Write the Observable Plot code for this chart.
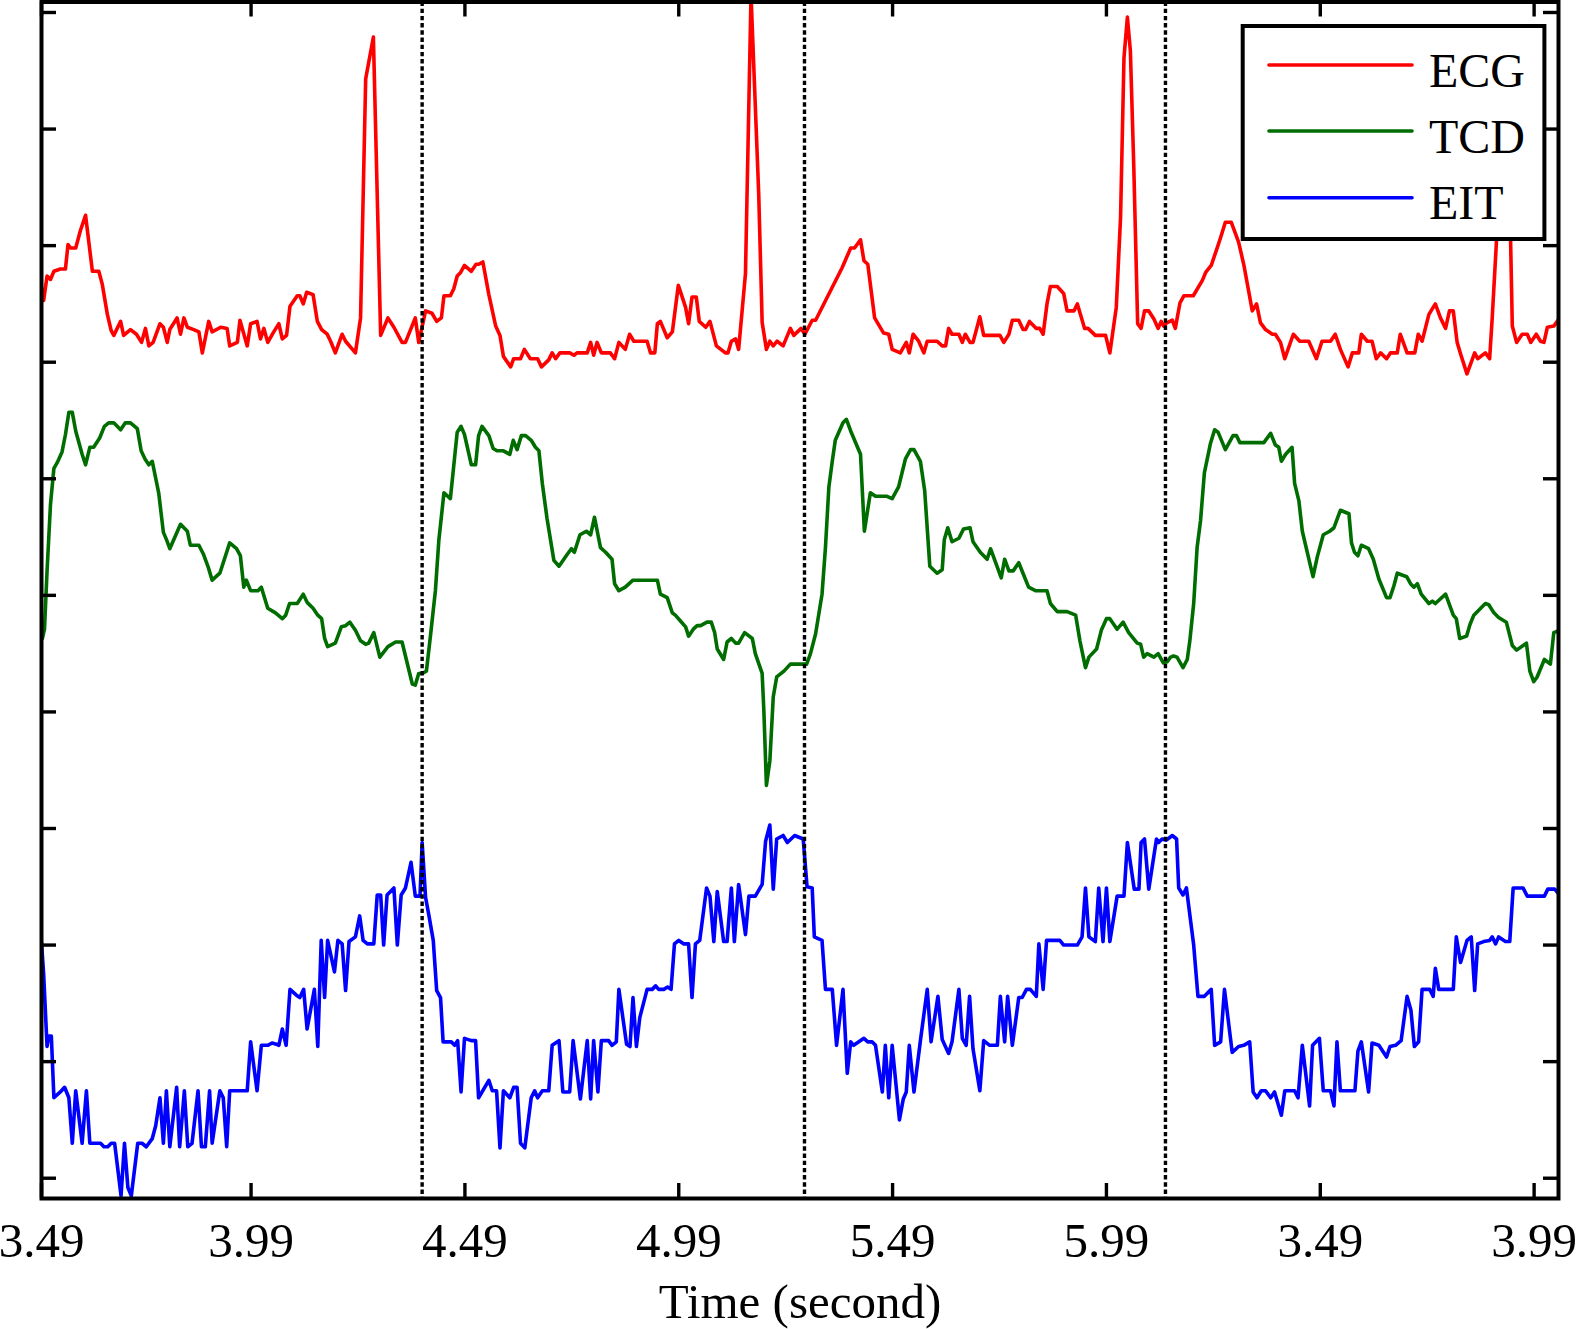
<!DOCTYPE html>
<html><head><meta charset="utf-8">
<script src="https://cdn.jsdelivr.net/npm/d3@7"></script>
<script src="https://cdn.jsdelivr.net/npm/@observablehq/plot@0.6"></script>
<style>
html,body{margin:0;padding:0;background:#fff;}
#chart{position:relative;width:1577px;height:1329px;}
</style></head><body><div id="chart"></div>
<script>
// ---------- data ----------
const seriesNames = ["ECG", "TCD", "EIT"];
const seriesColors = ["#ff0000", "#006d00", "#0000ff"];
const xTicks = [3.50, 3.99, 4.49, 4.99, 5.49, 5.99, 6.49, 6.99];
const xTickLabels = ["3.49", "3.99", "4.49", "4.99", "5.49", "5.99", "3.49", "3.99"];
const yTicks = [0, 1, 2, 3, 4, 5, 6, 7, 8, 9, 10];
const xLabel = "Time (second)";
const markerTimes = [4.390, 5.284, 6.128];
const xDomain = [3.50, 7.047];
const yDomain = [-0.174, 10.09];

const ecgTime = [
3.502,3.505,3.513,3.521,3.529,3.544,3.556,3.562,3.568,3.580,3.591,3.603,3.619,3.634,3.642,3.654,3.663,3.669,3.685,3.692,3.708,3.722,3.734,3.743,3.751,3.761,3.777,3.785,3.794,3.800,3.817,3.825,3.833,3.841,3.856,3.868,3.876,3.891,3.899,3.919,3.934,3.940,3.958,3.964,3.981,3.989,4.004,4.012,4.020,4.029,4.043,4.055,4.063,4.073,4.081,4.098,4.104,4.112,4.120,4.135,4.145,4.155,4.168,4.176,4.187,4.203,4.211,4.234,4.246,4.258,4.276,4.293,4.310,4.324,4.343,4.351,4.374,4.382,4.398,
4.413,4.424,4.435,4.441,4.456,4.464,4.472,4.480,4.489,4.505,4.516,4.522,4.532,4.546,4.562,4.572,4.580,4.597,4.604,4.620,4.629,4.643,4.660,4.669,4.686,4.694,4.702,4.712,4.735,4.745,4.752,4.776,4.784,4.791,4.799,4.809,4.830,4.840,4.850,4.865,4.875,4.885,4.916,4.924,4.934,4.940,4.947,4.963,4.975,4.989,4.998,5.006,5.013,5.021,5.031,5.038,5.053,5.063,5.078,5.099,5.105,5.113,5.123,5.130,5.146,5.159,5.177,5.185,5.195,5.203,5.211,5.220,5.234,5.251,5.259,5.276,5.285,
5.302,5.310,5.372,5.392,5.401,5.415,5.423,5.432,5.448,5.469,5.481,5.489,5.508,5.522,5.529,5.538,5.551,5.563,5.571,5.594,5.606,5.614,5.621,5.629,5.645,5.653,5.660,5.671,5.678,5.694,5.703,5.741,5.750,5.762,5.770,5.785,5.795,5.801,5.810,5.826,5.834,5.842,5.851,5.859,5.875,5.890,5.898,5.914,5.922,5.939,5.947,5.964,5.988,5.998,6.013,6.023,6.031,6.039,6.046,6.054,6.063,6.071,6.079,6.089,6.101,6.111,6.118,6.124,6.132,6.144,
6.151,6.162,6.171,6.193,6.214,6.222,6.235,6.247,6.257,6.268,6.282,6.299,6.311,6.331,6.341,6.350,6.362,6.378,6.385,6.397,6.407,6.427,6.442,6.463,6.481,6.494,6.514,6.525,6.537,6.555,6.565,6.580,6.586,6.600,6.611,6.621,6.631,6.645,6.654,6.670,6.677,6.693,6.711,6.719,6.728,6.744,6.759,6.771,6.783,6.792,6.801,6.810,6.819,6.833,6.851,6.858,6.876,6.886,6.892,6.902,6.918,6.935,6.939,6.949,6.962,6.974,6.982,6.995,7.005,7.013,7.021,7.036,7.050];
const ecgValue = [
7.63,7.53,7.74,7.71,7.78,7.80,7.80,8.01,7.98,7.98,8.13,8.26,7.78,7.78,7.67,7.41,7.27,7.23,7.35,7.23,7.28,7.24,7.17,7.29,7.14,7.17,7.33,7.30,7.17,7.28,7.38,7.24,7.38,7.30,7.28,7.26,7.08,7.35,7.26,7.30,7.29,7.14,7.17,7.36,7.14,7.33,7.35,7.20,7.29,7.17,7.26,7.33,7.20,7.23,7.48,7.57,7.57,7.50,7.60,7.58,7.35,7.28,7.24,7.18,7.08,7.24,7.18,7.08,7.38,9.43,9.79,7.23,7.38,7.30,7.17,7.17,7.38,7.17,7.44,
7.42,7.35,7.38,7.57,7.57,7.63,7.74,7.77,7.83,7.78,7.84,7.84,7.86,7.58,7.31,7.23,7.05,6.96,7.03,7.03,7.11,7.03,7.03,6.96,7.02,7.08,7.03,7.08,7.08,7.06,7.08,7.08,7.17,7.06,7.17,7.08,7.08,7.03,7.17,7.11,7.24,7.18,7.18,7.08,7.08,7.33,7.35,7.21,7.26,7.66,7.56,7.47,7.33,7.56,7.56,7.35,7.30,7.35,7.14,7.08,7.08,7.18,7.20,7.11,7.76,10.15,8.44,7.34,7.11,7.18,7.14,7.18,7.14,7.29,7.23,7.29,7.24,
7.36,7.36,7.81,7.98,7.98,8.05,7.87,7.84,7.38,7.25,7.24,7.11,7.08,7.17,7.08,7.24,7.18,7.08,7.18,7.18,7.14,7.14,7.29,7.24,7.24,7.17,7.24,7.17,7.17,7.39,7.23,7.23,7.17,7.24,7.36,7.36,7.28,7.28,7.35,7.29,7.29,7.24,7.50,7.65,7.65,7.59,7.44,7.44,7.50,7.29,7.29,7.23,7.23,7.08,7.47,8.24,9.61,9.96,9.67,8.67,7.33,7.29,7.44,7.44,7.37,7.29,7.35,7.31,7.34,7.36,
7.29,7.51,7.57,7.57,7.70,7.77,7.83,7.96,8.07,8.20,8.20,8.03,7.84,7.44,7.50,7.34,7.28,7.24,7.24,7.17,7.03,7.24,7.18,7.18,7.03,7.18,7.18,7.24,7.11,6.96,7.08,7.08,7.24,7.18,7.18,7.03,7.08,7.03,7.08,7.08,7.24,7.08,7.08,7.24,7.18,7.41,7.50,7.38,7.29,7.44,7.44,7.17,7.06,6.90,7.08,7.03,7.08,7.03,7.38,8.04,9.50,8.04,7.31,7.17,7.24,7.24,7.17,7.24,7.18,7.17,7.30,7.31,7.38];

const tcdTime = [
3.502,3.507,3.513,3.521,3.529,3.537,3.548,3.556,3.564,3.572,3.580,3.595,3.603,3.613,3.622,3.636,3.647,3.657,3.669,3.685,3.696,3.708,3.724,3.733,3.742,3.751,3.759,3.774,3.785,3.792,3.800,3.825,3.841,3.848,3.868,3.879,3.890,3.899,3.917,3.940,3.956,3.965,3.973,3.979,3.989,4.006,4.014,4.029,4.047,4.063,4.071,4.080,4.098,4.112,4.121,4.135,4.146,4.155,4.162,4.169,4.187,4.201,4.211,4.221,4.234,4.246,4.258,4.265,4.277,4.291,4.310,4.328,4.343,4.367,4.374,4.382,4.390,4.400,
4.410,4.421,4.429,4.441,4.456,4.472,4.481,4.489,4.505,4.515,4.522,4.530,4.546,4.556,4.565,4.580,4.595,4.603,4.612,4.622,4.632,4.645,4.655,4.663,4.671,4.682,4.698,4.710,4.729,4.739,4.746,4.759,4.774,4.784,4.793,4.807,4.819,4.834,4.840,4.850,4.865,4.883,4.940,4.947,4.963,4.975,4.982,4.994,5.006,5.013,5.024,5.033,5.041,5.056,5.066,5.074,5.080,5.095,5.103,5.113,5.123,5.130,5.144,5.162,5.169,5.185,5.189,5.195,5.203,5.211,5.219,5.236,5.251,5.289,
5.298,5.310,5.325,5.333,5.341,5.349,5.356,5.374,5.382,5.392,5.415,5.424,5.438,5.450,5.477,5.489,5.504,5.520,5.532,5.540,5.555,5.565,5.577,5.594,5.606,5.611,5.619,5.629,5.645,5.656,5.671,5.678,5.695,5.711,5.719,5.731,5.744,5.752,5.762,5.772,5.785,5.797,5.808,5.824,5.851,5.859,5.875,5.898,5.918,5.928,5.941,5.949,5.967,5.978,5.990,5.998,6.015,6.029,6.042,6.062,6.070,6.077,6.085,6.101,6.111,6.123,6.132,6.140,
6.147,6.155,6.169,6.179,6.185,6.194,6.202,6.210,6.219,6.233,6.243,6.251,6.268,6.286,6.294,6.302,6.358,6.374,6.385,6.393,6.399,6.409,6.424,6.430,6.440,6.448,6.473,6.483,6.497,6.512,6.522,6.537,6.557,6.563,6.570,6.578,6.586,6.603,6.614,6.627,6.645,6.653,6.662,6.670,6.692,6.701,6.709,6.717,6.726,6.744,6.752,6.759,6.783,6.801,6.808,6.816,6.832,6.840,6.849,6.876,6.884,6.896,6.907,6.925,6.939,6.949,6.972,6.980,6.989,6.997,7.014,7.028,7.036,7.050];
const tcdValue = [
4.63,4.71,5.21,5.78,6.09,6.14,6.23,6.38,6.57,6.57,6.41,6.21,6.12,6.27,6.27,6.35,6.45,6.48,6.48,6.42,6.48,6.48,6.43,6.24,6.17,6.12,6.15,5.88,5.54,5.48,5.40,5.61,5.55,5.43,5.43,5.35,5.24,5.13,5.19,5.45,5.40,5.34,5.07,5.13,5.04,5.04,5.07,4.89,4.85,4.80,4.83,4.93,4.93,5.01,4.94,4.89,4.83,4.80,4.63,4.56,4.59,4.73,4.74,4.77,4.70,4.61,4.58,4.59,4.68,4.47,4.56,4.60,4.60,4.24,4.23,4.33,4.33,4.35,
4.67,5.04,5.47,5.88,5.83,6.40,6.45,6.38,6.12,6.12,6.37,6.45,6.37,6.26,6.24,6.24,6.21,6.33,6.25,6.37,6.37,6.33,6.27,6.24,5.96,5.66,5.30,5.25,5.35,5.40,5.37,5.52,5.55,5.52,5.67,5.41,5.37,5.31,5.10,5.04,5.07,5.13,5.13,5.01,4.98,4.85,4.83,4.78,4.73,4.65,4.71,4.74,4.74,4.77,4.77,4.68,4.54,4.45,4.60,4.63,4.59,4.59,4.68,4.63,4.50,4.33,4.01,3.37,3.58,4.13,4.30,4.35,4.41,4.41,
4.50,4.67,5.01,5.41,5.93,6.15,6.33,6.48,6.51,6.41,6.21,5.55,5.88,5.85,5.85,5.83,5.93,6.17,6.25,6.25,6.15,5.90,5.25,5.19,5.22,5.48,5.58,5.46,5.49,5.57,5.58,5.46,5.37,5.31,5.40,5.28,5.15,5.31,5.21,5.21,5.28,5.17,5.07,5.04,5.04,4.93,4.86,4.86,4.83,4.61,4.38,4.47,4.54,4.70,4.80,4.80,4.71,4.77,4.68,4.59,4.58,4.47,4.50,4.47,4.50,4.42,4.43,4.47,
4.48,4.47,4.38,4.45,4.61,4.93,5.41,5.64,6.05,6.30,6.42,6.40,6.25,6.37,6.37,6.31,6.31,6.39,6.29,6.27,6.15,6.21,6.27,5.96,5.81,5.55,5.16,5.33,5.52,5.55,5.58,5.73,5.70,5.45,5.37,5.34,5.43,5.40,5.31,5.14,4.98,4.98,5.08,5.19,5.16,5.10,5.07,5.10,5.01,4.93,4.95,4.93,5.01,4.83,4.80,4.63,4.65,4.75,4.83,4.93,4.92,4.85,4.81,4.77,4.57,4.53,4.59,4.35,4.26,4.30,4.45,4.41,4.68,4.70];

const eitTime = [
3.500,3.505,3.513,3.517,3.523,3.529,3.544,3.554,3.564,3.572,3.580,3.595,3.605,3.613,3.638,3.646,3.655,3.663,3.671,3.686,3.694,3.702,3.710,3.725,3.735,3.745,3.759,3.767,3.777,3.785,3.792,3.800,3.816,3.823,3.834,3.842,3.852,3.866,3.874,3.883,3.893,3.899,3.917,3.925,3.933,3.940,3.981,3.989,4.004,4.014,4.029,4.039,4.049,4.055,4.063,4.072,4.081,4.096,4.104,4.113,4.121,4.138,4.146,4.154,4.162,4.169,4.185,4.193,4.203,4.211,4.219,4.234,4.244,4.252,4.262,4.277,4.285,4.293,4.300,4.308,4.324,4.332,4.341,4.351,4.364,4.374,4.385,4.390,4.398,4.406,4.416,
4.424,4.433,4.439,4.458,4.466,4.473,4.481,4.489,4.505,4.515,4.522,4.546,4.554,4.564,4.572,4.580,4.595,4.604,4.612,4.620,4.630,4.645,4.653,4.660,4.671,4.686,4.694,4.710,4.719,4.735,4.743,4.760,4.776,4.784,4.791,4.801,4.809,4.826,4.834,4.844,4.850,4.868,4.876,4.883,4.891,4.899,4.916,4.928,4.936,4.943,4.955,4.964,4.972,4.980,4.990,5.002,5.013,5.021,5.029,5.039,5.055,5.063,5.072,5.080,5.095,5.103,5.113,5.120,5.130,5.146,5.154,5.169,5.185,5.193,5.203,5.211,5.219,5.234,5.244,5.261,5.281,
5.290,5.302,5.307,5.325,5.333,5.349,5.359,5.374,5.384,5.392,5.399,5.423,5.432,5.442,5.450,5.466,5.473,5.481,5.489,5.506,5.515,5.522,5.529,5.540,5.555,5.571,5.580,5.596,5.606,5.621,5.629,5.645,5.653,5.662,5.670,5.678,5.694,5.703,5.717,5.735,5.742,5.752,5.759,5.770,5.785,5.793,5.803,5.812,5.826,5.832,5.842,5.850,5.881,5.890,5.922,5.933,5.941,5.949,5.964,5.972,5.982,5.990,5.998,6.015,6.031,6.039,6.055,6.066,6.071,6.079,6.089,6.107,6.112,6.120,6.130,6.144,
6.154,6.159,6.169,6.177,6.194,6.204,6.219,6.235,6.243,6.257,6.266,6.284,6.299,6.311,6.325,6.333,6.342,6.352,6.362,6.374,6.383,6.399,6.407,6.430,6.438,6.448,6.465,6.472,6.488,6.497,6.514,6.522,6.529,6.537,6.571,6.578,6.586,6.603,6.611,6.627,6.645,6.653,6.666,6.679,6.693,6.702,6.710,6.720,6.728,6.746,6.754,6.759,6.767,6.801,6.808,6.818,6.833,6.843,6.851,6.858,6.872,6.886,6.892,6.900,6.907,6.923,6.933,6.941,6.964,6.974,7.014,7.022,7.038,7.050];
const eitValue = [
2.02,1.75,1.13,1.22,1.22,0.69,0.74,0.78,0.69,0.30,0.75,0.30,0.75,0.30,0.30,0.27,0.27,0.30,0.30,-0.15,0.30,-0.08,-0.15,0.30,0.30,0.27,0.34,0.45,0.69,0.30,0.75,0.27,0.78,0.27,0.75,0.27,0.30,0.75,0.27,0.27,0.75,0.30,0.75,0.69,0.27,0.75,0.75,1.17,0.75,1.14,1.14,1.16,1.15,1.14,1.28,1.14,1.62,1.57,1.55,1.62,1.28,1.62,1.13,2.04,1.55,2.04,1.77,2.04,2.01,1.61,2.03,2.07,2.25,2.04,2.01,2.01,2.43,2.43,2.00,2.43,2.49,2.00,2.43,2.49,2.71,2.42,2.42,2.88,2.41,2.25,2.04,
1.61,1.55,1.17,1.17,1.14,1.18,0.74,1.20,1.18,1.18,0.69,0.84,0.75,0.75,0.26,0.75,0.69,0.78,0.78,0.30,0.26,0.69,0.75,0.69,0.75,0.75,1.14,1.18,0.74,0.74,1.18,0.68,1.18,0.68,1.18,0.74,1.18,1.18,1.14,1.17,1.62,1.15,1.13,1.55,1.13,1.38,1.62,1.62,1.65,1.62,1.62,1.64,1.62,2.01,2.04,2.01,2.01,1.55,2.01,2.04,2.49,2.42,2.03,2.46,2.03,2.03,2.49,2.03,2.52,2.09,2.42,2.42,2.52,2.89,3.03,2.48,2.91,2.94,2.88,2.94,2.91,
2.50,2.49,2.07,2.04,1.62,1.62,1.14,1.62,0.90,1.17,1.14,1.20,1.17,1.17,1.14,0.74,1.14,0.69,1.14,0.50,0.68,0.74,1.14,0.74,1.18,1.62,1.17,1.56,1.19,1.07,1.17,1.62,1.20,1.14,1.56,1.11,0.75,1.18,1.14,1.14,1.56,1.17,1.56,1.14,1.55,1.55,1.62,1.62,1.56,2.01,1.62,2.04,2.04,2.00,2.00,2.07,2.49,2.07,2.03,2.49,2.03,2.49,2.03,2.42,2.42,2.88,2.48,2.48,2.88,2.91,2.48,2.91,2.88,2.91,2.90,2.94,
2.91,2.49,2.43,2.49,2.00,1.56,1.56,1.62,1.14,1.17,1.62,1.08,1.13,1.14,1.17,0.74,0.69,0.75,0.75,0.69,0.74,0.54,0.75,0.75,0.69,1.14,0.62,1.14,1.20,0.75,0.75,0.62,1.17,0.75,0.75,1.09,1.17,0.74,1.16,1.14,1.04,1.13,1.14,1.18,1.56,1.44,1.13,1.17,1.62,1.62,1.56,1.80,1.62,1.62,2.07,1.85,2.04,2.07,1.61,2.01,2.03,2.04,2.07,2.01,2.07,2.03,2.03,2.49,2.49,2.42,2.42,2.48,2.48,2.43];

// ---------- build tables ----------
const toRows = (ts, vs) => ts.slice(0, Math.min(ts.length, vs.length)).map((t, i) => ({t, v: vs[i]}));
const ecg = toRows(ecgTime, ecgValue);
const tcd = toRows(tcdTime, tcdValue);
const eit = toRows(eitTime, eitValue);

// ---------- layout ----------
const W = 1577, H = 1329;
const mL = 41, mR = 19, mT = 1.5, mB = 131;
const innerW = W - mL - mR, innerH = H - mT - mB;
const tickLen = 15;
const lineW = 3.6;
const serif = "'Liberation Serif', 'Times New Roman', Times, serif";

const chart = Plot.plot({
  width: W, height: H,
  marginLeft: mL, marginRight: mR, marginTop: mT, marginBottom: mB,
  style: {fontFamily: serif, fontSize: "49px", background: "white", color: "black"},
  x: {domain: xDomain, axis: null, label: null},
  y: {domain: yDomain, axis: null, label: null},
  marks: [
    Plot.line(ecg, {x: "t", y: "v", stroke: seriesColors[0], strokeWidth: lineW, clip: true}),
    Plot.line(tcd, {x: "t", y: "v", stroke: seriesColors[1], strokeWidth: lineW, clip: true}),
    Plot.line(eit, {x: "t", y: "v", stroke: seriesColors[2], strokeWidth: lineW, clip: true}),
    Plot.ruleX(markerTimes, {x: d => d, stroke: "black", strokeWidth: 3.4, strokeDasharray: "4.4 2.8"}),
    Plot.tickX(xTicks, {x: d => d, insetTop: innerH - tickLen, stroke: "black", strokeWidth: 3.4}),
    Plot.tickX(xTicks, {x: d => d, insetBottom: innerH - tickLen, stroke: "black", strokeWidth: 3.4}),
    Plot.tickY(yTicks, {y: d => d, insetRight: innerW - tickLen, stroke: "black", strokeWidth: 3.4}),
    Plot.tickY(yTicks, {y: d => d, insetLeft: innerW - tickLen, stroke: "black", strokeWidth: 3.4}),
    Plot.frame({stroke: "black", strokeWidth: 4}),
    Plot.axisX({ticks: xTicks, tickSize: 0, tickPadding: 24, fontSize: 49, label: null,
                tickFormat: d => xTickLabels[xTicks.indexOf(d)]}),
    Plot.text([xLabel], {frameAnchor: "bottom", dy: 119, fontSize: 49, fill: "black"})
  ]
});
document.getElementById("chart").appendChild(chart);

// ---------- legend (inside the plot, top right) ----------
const svg = d3.select(chart.tagName.toLowerCase() === "svg" ? chart : chart.querySelector("svg"));
const lg = svg.append("g").attr("class", "legend");
lg.append("rect").attr("x", 1242.7).attr("y", 26).attr("width", 301.7).attr("height", 213)
  .attr("fill", "white").attr("stroke", "black").attr("stroke-width", 4);
const rowY = [65, 131, 197.7];
seriesNames.forEach((name, i) => {
  lg.append("line").attr("x1", 1269).attr("x2", 1412).attr("y1", rowY[i]).attr("y2", rowY[i])
    .attr("stroke", seriesColors[i]).attr("stroke-width", lineW).attr("stroke-linecap", "round");
  lg.append("text").attr("x", 1429).attr("y", rowY[i] + 21.5).text(name)
    .attr("text-anchor", "start")
    .attr("font-family", serif).attr("font-size", 48).attr("fill", "black");
});
</script></body></html>
